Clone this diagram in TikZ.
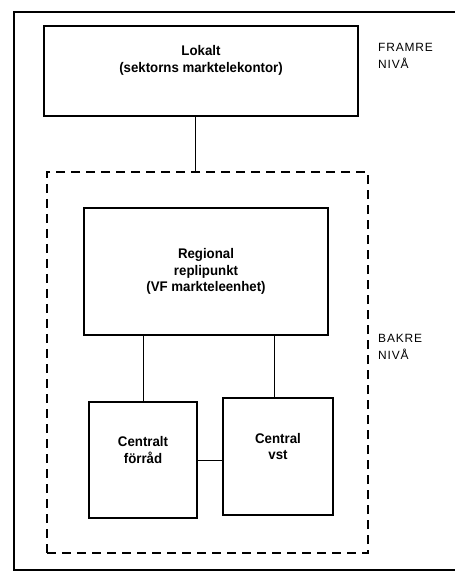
\documentclass[tikz,border=0pt]{standalone}
\usepackage{fontspec}
\setmainfont{Liberation Sans}
\newfontfamily\boxfont[FakeStretch=0.95]{Liberation Sans}
\newfontfamily\levelfont[LetterSpace=7]{Liberation Sans}
\usepackage{tikz}
\usetikzlibrary{positioning}

\tikzset{
  unitbox/.style = {draw, line width = 1.6bp, align = center,
    font = \boxfont\bfseries\fontsize{14}{16.5}\selectfont},
  levelbox/.style = {dashed, dash pattern = on 9bp off 6bp, line width = 1.3bp},
  levellabel/.style = {anchor = west, align = left, inner sep = 0pt,
    font = \levelfont\fontsize{12}{17}\selectfont},
  link/.style = {line width = 0.9bp}
}

\begin{document}
\begin{tikzpicture}[x = 1bp, y = -1bp]
      \useasboundingbox (0, 0) rectangle (455, 580);
      \draw [line width = 1.4bp] (455, 12) -- (14, 12) -- (14, 570) -- (455, 570);
      \node [unitbox, minimum width = 314bp, minimum height = 90bp] (lokalt) at (201, 71)
        {Lokalt\\(sektorns marktelekontor)\\[8bp]};
      \node [levelbox, draw, minimum width = 321bp, minimum height = 381bp] (bakre) at (207.5, 362.5) {};
      \node [unitbox, minimum width = 244bp, minimum height = 127bp] (regional) at (206, 271.5)
        {Regional\\replipunkt\\(VF markteleenhet)};
      \node [unitbox, minimum width = 108bp, minimum height = 116bp] (forrad) at (143, 460)
        {Centralt\\förråd\\[4bp]};
      \node [unitbox, minimum width = 110bp, minimum height = 117bp] (vst) at (278, 456.5)
        {Central\\vst\\[4bp]};
      \node [levellabel] (framre) at (378, 56) {FRAMRE\\NIVÅ};
      \node [levellabel] (bakrelabel) at (378, 347) {BAKRE\\NIVÅ};
      \draw [link] ([xshift = -6bp]lokalt.south) -- ([xshift = -6bp]lokalt.south |- bakre.north);
      \draw [link] (forrad.north) -- (forrad.north |- regional.south);
      \draw [link] ([xshift = -4bp]vst.north) -- ([xshift = -4bp]vst.north |- regional.south);
      \draw [link] (forrad.east) -- (forrad.east -| vst.west);
    \end{tikzpicture}
\end{document}
